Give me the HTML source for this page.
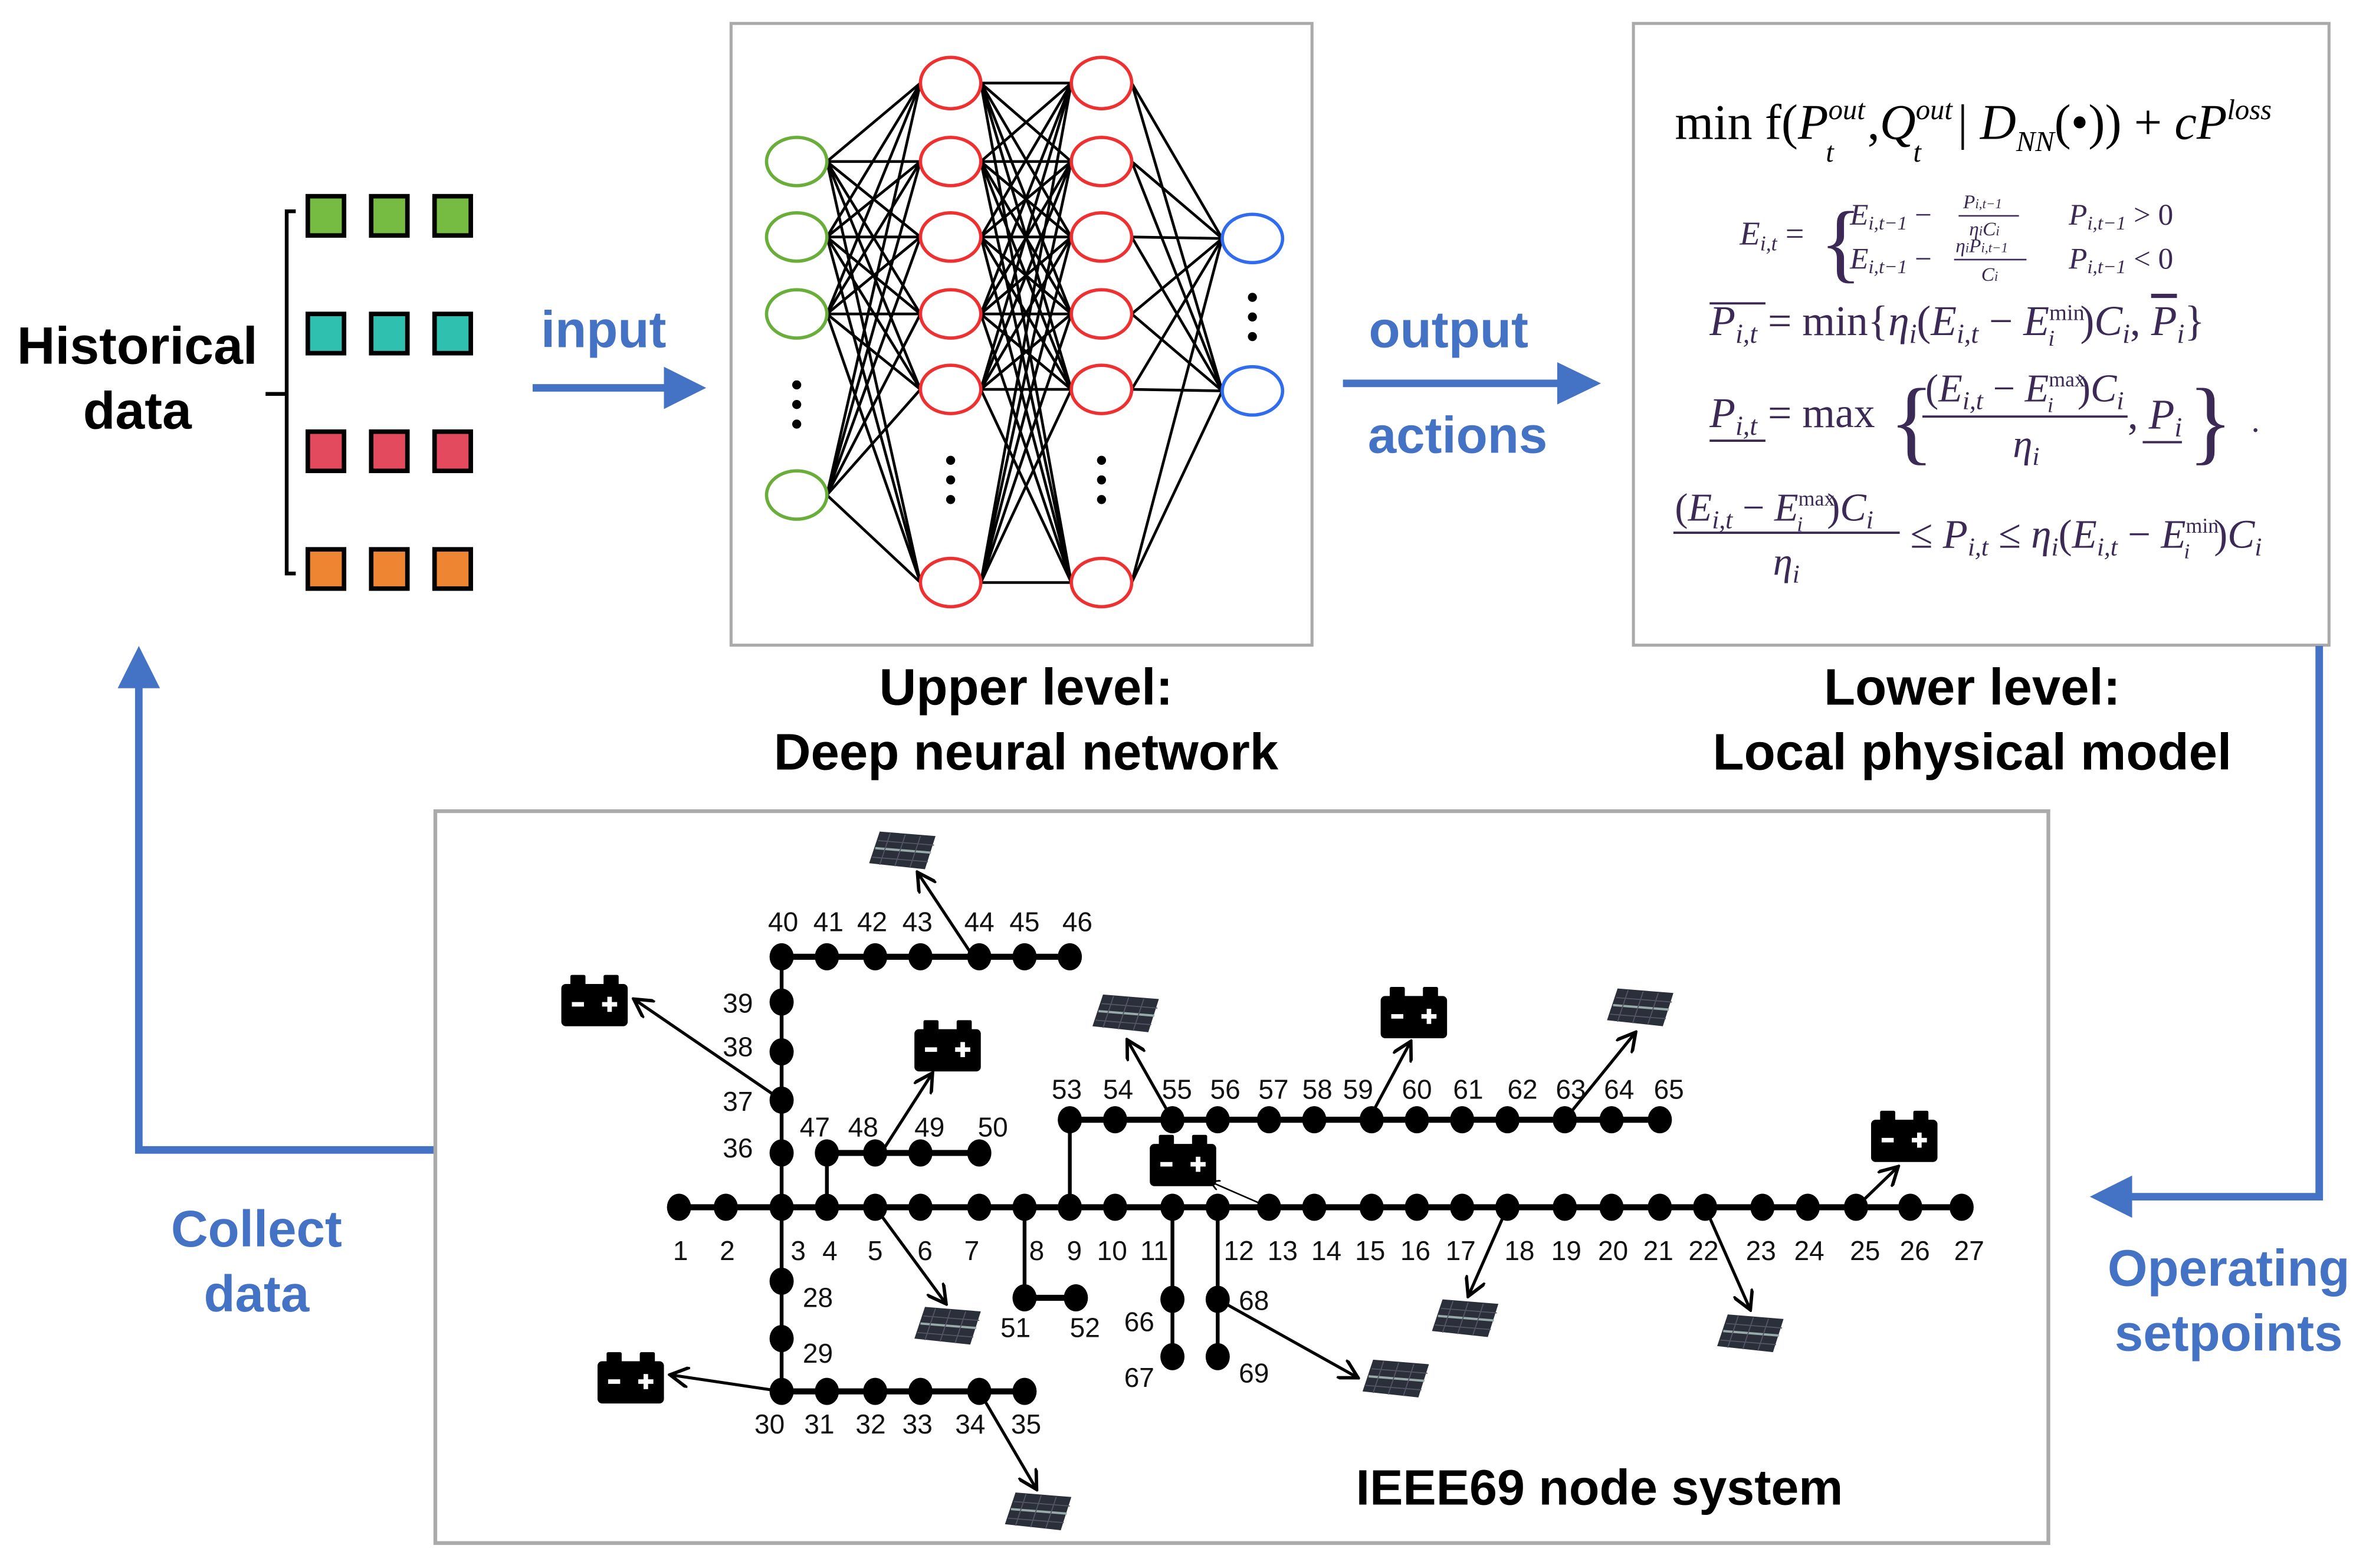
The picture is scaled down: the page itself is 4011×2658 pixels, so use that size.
<!DOCTYPE html>
<html><head><meta charset="utf-8"><style>
html,body{margin:0;padding:0;background:#fff}
svg{display:block}
.b{font-family:"Liberation Sans",sans-serif;font-weight:bold}
.bl{fill:#4472C4}
.n{font-family:"Liberation Sans Narrow","Liberation Sans",sans-serif;font-size:18px;fill:#111}
.m{font-family:"Liberation Serif",serif;fill:#3a2a55}
</style></head><body>
<svg xmlns="http://www.w3.org/2000/svg" width="4011" height="2658" viewBox="0 0 1568 1039">
<defs>
<marker id="ah" viewBox="0 0 10 10" refX="9" refY="5" markerWidth="7" markerHeight="7" orient="auto"><path d="M0,0 L9,5 L0,10" fill="none" stroke="#000" stroke-width="1.6"/></marker>
<g id="bat"><rect x="-22" y="-12" width="44" height="28" rx="3" fill="#000"/><rect x="-16" y="-18" width="10" height="8" rx="1" fill="#000"/><rect x="6" y="-18" width="10" height="8" rx="1" fill="#000"/><rect x="-15" y="0" width="8" height="3" fill="#fff"/><rect x="5" y="0" width="10" height="3" fill="#fff"/><rect x="8.5" y="-3.5" width="3" height="10" fill="#fff"/></g>
<g id="pv"><path d="M-15,-12 L22,-9 L15,13 L-22,9 Z" fill="#2b2f3a"/><path d="M-18,-1 L19,2" stroke="#9aa" stroke-width="1.5"/><path d="M-8,-11 L-15,10 M2,-10 L-5,11 M12,-9 L5,12 M-16,-6 L21,-3 M-20,5 L17,8" stroke="#556" stroke-width="0.7"/></g>
</defs>

<!-- Historical data -->
<text class="b" x="91" y="241" font-size="35" text-anchor="middle">Historical</text>
<text class="b" x="91" y="284" font-size="35" text-anchor="middle">data</text>
<path d="M196,140 H190 V380 H196 M176,261 H190" fill="none" stroke="#000" stroke-width="2.5"/>
<g stroke="#000" stroke-width="3">
<rect x="204" y="130" width="24" height="26" fill="#76BC43"/><rect x="246" y="130" width="24" height="26" fill="#76BC43"/><rect x="288" y="130" width="24" height="26" fill="#76BC43"/>
<rect x="204" y="208" width="24" height="26" fill="#2FC0B0"/><rect x="246" y="208" width="24" height="26" fill="#2FC0B0"/><rect x="288" y="208" width="24" height="26" fill="#2FC0B0"/>
<rect x="204" y="286" width="24" height="26" fill="#E34A5E"/><rect x="246" y="286" width="24" height="26" fill="#E34A5E"/><rect x="288" y="286" width="24" height="26" fill="#E34A5E"/>
<rect x="204" y="364" width="24" height="26" fill="#EE8532"/><rect x="246" y="364" width="24" height="26" fill="#EE8532"/><rect x="288" y="364" width="24" height="26" fill="#EE8532"/>
</g>

<!-- input arrow -->
<text class="b bl" x="400" y="230" font-size="34" text-anchor="middle">input</text>
<line x1="353" y1="257" x2="445" y2="257" stroke="#4472C4" stroke-width="5"/>
<path d="M440,243 L468,257 L440,271 Z" fill="#4472C4"/>

<!-- NN box -->
<rect x="484.5" y="15.5" width="385" height="412" fill="none" stroke="#aaa" stroke-width="2"/>
<g id="nnlines" stroke="#000" stroke-width="1.8"></g>
<g fill="none" stroke-width="2.2">
<g stroke="#6AAE3A"><ellipse cx="528" cy="107" rx="20" ry="16"/><ellipse cx="528" cy="157" rx="20" ry="16"/><ellipse cx="528" cy="208" rx="20" ry="16"/><ellipse cx="528" cy="328" rx="20" ry="16"/></g>
<g stroke="#F03030"><ellipse cx="630" cy="55" rx="20" ry="17"/><ellipse cx="630" cy="107" rx="20" ry="16"/><ellipse cx="630" cy="157" rx="20" ry="16"/><ellipse cx="630" cy="208" rx="20" ry="16"/><ellipse cx="630" cy="258" rx="20" ry="16"/><ellipse cx="630" cy="386" rx="20" ry="16"/>
<ellipse cx="730" cy="55" rx="20" ry="17"/><ellipse cx="730" cy="107" rx="20" ry="16"/><ellipse cx="730" cy="157" rx="20" ry="16"/><ellipse cx="730" cy="208" rx="20" ry="16"/><ellipse cx="730" cy="258" rx="20" ry="16"/><ellipse cx="730" cy="386" rx="20" ry="16"/></g>
<g stroke="#2F6CF0"><ellipse cx="830" cy="158" rx="20" ry="16"/><ellipse cx="830" cy="259" rx="20" ry="16"/></g>
</g>
<g fill="#000"><circle cx="528" cy="255" r="3"/><circle cx="528" cy="268" r="3"/><circle cx="528" cy="281" r="3"/>
<circle cx="630" cy="305" r="3"/><circle cx="630" cy="318" r="3"/><circle cx="630" cy="331" r="3"/>
<circle cx="730" cy="305" r="3"/><circle cx="730" cy="318" r="3"/><circle cx="730" cy="331" r="3"/>
<circle cx="830" cy="197" r="3"/><circle cx="830" cy="210" r="3"/><circle cx="830" cy="223" r="3"/></g>

<!-- output arrow -->
<text class="b bl" x="960" y="230" font-size="34" text-anchor="middle">output</text>
<text class="b bl" x="966" y="300" font-size="34" text-anchor="middle">actions</text>
<line x1="890" y1="254" x2="1038" y2="254" stroke="#4472C4" stroke-width="5"/>
<path d="M1032,240 L1061,254 L1032,268 Z" fill="#4472C4"/>

<!-- formula box -->
<rect x="1082.5" y="15.5" width="461" height="412" fill="none" stroke="#aaa" stroke-width="2"/>
<text class="m" x="1110" y="92" font-size="33" style="fill:#000">min f(<tspan font-style="italic">P</tspan><tspan font-style="italic" font-size="19" dy="-13">out</tspan><tspan font-style="italic" font-size="19" dx="-26" dy="28">t</tspan><tspan dy="-15" dx="14"> ,</tspan><tspan font-style="italic">Q</tspan><tspan font-style="italic" font-size="19" dy="-13">out</tspan><tspan font-style="italic" font-size="19" dx="-26" dy="28">t</tspan><tspan dy="-15" dx="16"> | </tspan><tspan font-style="italic">D</tspan><tspan font-style="italic" font-size="19" dy="8">NN</tspan><tspan dy="-8">(•)) + </tspan><tspan font-style="italic">cP</tspan><tspan font-style="italic" font-size="19" dy="-13">loss</tspan></text>
<g class="m" font-style="italic">
<text x="1153" y="162" font-size="22">E<tspan font-size="14" dy="4">i,t</tspan><tspan dy="-4" font-style="normal"> =</tspan></text>
<text x="1206" y="180" font-size="58" font-style="normal">{</text>
<text x="1226" y="149" font-size="20">E<tspan font-size="13" dy="3">i,t−1</tspan><tspan dy="-3" font-style="normal"> −</tspan></text>
<text x="1301" y="138" font-size="13">P<tspan font-size="9">i,t−1</tspan></text><line x1="1298" y1="143" x2="1338" y2="143" stroke="#3a2a55" stroke-width="1"/><text x="1305" y="156" font-size="13">η<tspan font-size="9">i</tspan>C<tspan font-size="9">i</tspan></text>
<text x="1371" y="149" font-size="20">P<tspan font-size="13" dy="3">i,t−1</tspan><tspan dy="-3" font-style="normal"> &gt; 0</tspan></text>
<text x="1226" y="178" font-size="20">E<tspan font-size="13" dy="3">i,t−1</tspan><tspan dy="-3" font-style="normal"> −</tspan></text>
<text x="1296" y="167" font-size="13">η<tspan font-size="9">i</tspan>P<tspan font-size="9">i,t−1</tspan></text><line x1="1295" y1="172" x2="1343" y2="172" stroke="#3a2a55" stroke-width="1"/><text x="1313" y="186" font-size="13">C<tspan font-size="9">i</tspan></text>
<text x="1371" y="178" font-size="20">P<tspan font-size="13" dy="3">i,t−1</tspan><tspan dy="-3" font-style="normal"> &lt; 0</tspan></text>
<line x1="1133" y1="201" x2="1170" y2="201" stroke="#3a2a55" stroke-width="1.5"/>
<text x="1133" y="222" font-size="28">P<tspan font-size="18" dy="5">i,t</tspan><tspan dy="-5" font-style="normal"> = min{</tspan>η<tspan font-size="18" dy="5">i</tspan><tspan dy="-5" font-style="normal">(</tspan>E<tspan font-size="18" dy="5">i,t</tspan><tspan dy="-5" font-style="normal"> − </tspan>E<tspan font-size="15" dy="-10" font-style="normal">min</tspan><tspan font-size="15" dx="-24" dy="17">i</tspan><tspan dy="-7" dx="17" font-style="normal">)</tspan>C<tspan font-size="18" dy="5">i</tspan><tspan dy="-5" font-style="normal">, </tspan><tspan text-decoration="overline">P</tspan><tspan font-size="18" dy="5">i</tspan><tspan dy="-5" font-style="normal">}</tspan></text>
<text x="1133" y="283" font-size="28">P<tspan font-size="18" dy="5">i,t</tspan><tspan dy="-5" font-style="normal"> = max</tspan></text>
<line x1="1133" y1="292" x2="1170" y2="292" stroke="#3a2a55" stroke-width="1.5"/>
<text x="1252" y="300" font-size="62" font-style="normal">{</text>
<text x="1276" y="266" font-size="26"><tspan font-style="normal">(</tspan>E<tspan font-size="17" dy="5">i,t</tspan><tspan dy="-5" font-style="normal"> − </tspan>E<tspan font-size="14" dy="-10" font-style="normal">max</tspan><tspan font-size="14" dx="-25" dy="17">i</tspan><tspan dy="-7" dx="16" font-style="normal">)</tspan>C<tspan font-size="17" dy="5">i</tspan></text>
<line x1="1274" y1="276" x2="1410" y2="276" stroke="#3a2a55" stroke-width="1.5"/>
<text x="1334" y="303" font-size="26">η<tspan font-size="17" dy="5">i</tspan></text>
<text x="1410" y="284" font-size="28"><tspan font-style="normal">, </tspan>P<tspan font-size="18" dy="5">i</tspan></text>
<line x1="1420" y1="293" x2="1446" y2="293" stroke="#3a2a55" stroke-width="1.5"/>
<text x="1450" y="300" font-size="62" font-style="normal">}</text>
<text x="1492" y="286" font-size="22" font-style="normal">.</text>
<text x="1110" y="345" font-size="26"><tspan font-style="normal">(</tspan>E<tspan font-size="17" dy="5">i,t</tspan><tspan dy="-5" font-style="normal"> − </tspan>E<tspan font-size="14" dy="-10" font-style="normal">max</tspan><tspan font-size="14" dx="-25" dy="17">i</tspan><tspan dy="-7" dx="16" font-style="normal">)</tspan>C<tspan font-size="17" dy="5">i</tspan></text>
<line x1="1109" y1="353" x2="1259" y2="353" stroke="#3a2a55" stroke-width="1.5"/>
<text x="1175" y="381" font-size="26">η<tspan font-size="17" dy="5">i</tspan></text>
<text x="1266" y="363" font-size="27"><tspan font-style="normal">≤ </tspan>P<tspan font-size="17" dy="5">i,t</tspan><tspan dy="-5" font-style="normal"> ≤ </tspan>η<tspan font-size="17" dy="5">i</tspan><tspan dy="-5" font-style="normal">(</tspan>E<tspan font-size="17" dy="5">i,t</tspan><tspan dy="-5" font-style="normal"> − </tspan>E<tspan font-size="14" dy="-10" font-style="normal">min</tspan><tspan font-size="14" dx="-23" dy="17">i</tspan><tspan dy="-7" dx="16" font-style="normal">)</tspan>C<tspan font-size="17" dy="5">i</tspan></text>
</g>

<!-- level labels -->
<text class="b" x="680" y="467" font-size="34" text-anchor="middle">Upper level:</text>
<text class="b" x="680" y="510" font-size="34" text-anchor="middle">Deep neural network</text>
<text class="b" x="1307" y="467" font-size="34" text-anchor="middle">Lower level:</text>
<text class="b" x="1307" y="510" font-size="34" text-anchor="middle">Local physical model</text>

<!-- feedback arrows -->
<path d="M288,762 H92 V450" fill="none" stroke="#4472C4" stroke-width="5"/>
<path d="M78,456 L92,428 L106,456 Z" fill="#4472C4"/>
<text class="b bl" x="170" y="826" font-size="34" text-anchor="middle">Collect</text>
<text class="b bl" x="170" y="869" font-size="34" text-anchor="middle">data</text>
<path d="M1537,428 V793 H1408" fill="none" stroke="#4472C4" stroke-width="5"/>
<path d="M1413,779 L1385,793 L1413,807 Z" fill="#4472C4"/>
<text class="b bl" x="1477" y="852" font-size="34" text-anchor="middle">Operating</text>
<text class="b bl" x="1477" y="895" font-size="34" text-anchor="middle">setpoints</text>

<!-- bottom box -->
<rect x="288.5" y="537.5" width="1069" height="485" fill="none" stroke="#aaa" stroke-width="2.5"/>
<text class="b" x="1060" y="997" font-size="33" text-anchor="middle">IEEE69 node system</text>

<!-- network lines -->
<g stroke="#000" stroke-width="4">
<line x1="450" y1="800" x2="1300" y2="800"/>
<line x1="518" y1="922" x2="679" y2="922"/>
<line x1="518" y1="634" x2="709" y2="634"/>
<line x1="548" y1="764" x2="649" y2="764"/>
<line x1="709" y1="742" x2="1100" y2="742"/>
<line x1="679" y1="860" x2="713" y2="860"/>
</g>
<g stroke="#000" stroke-width="2.5">
<line x1="518" y1="634" x2="518" y2="922"/>
<line x1="548" y1="764" x2="548" y2="800"/>
<line x1="709" y1="742" x2="709" y2="800"/>
<line x1="679" y1="800" x2="679" y2="860"/>
<line x1="777" y1="800" x2="777" y2="899"/>
<line x1="807" y1="800" x2="807" y2="899"/>
</g>
<g id="nodes" fill="#000"></g>

<!-- devices -->
<use href="#pv" x="598" y="563"/><use href="#pv" x="746" y="671"/><use href="#pv" x="1087" y="667"/><use href="#pv" x="628" y="878"/><use href="#pv" x="971" y="873"/><use href="#pv" x="925" y="913"/><use href="#pv" x="1160" y="883"/><use href="#pv" x="688" y="1001"/>
<use href="#bat" x="394" y="664"/><use href="#bat" x="628" y="694"/><use href="#bat" x="937" y="672"/><use href="#bat" x="784" y="770"/><use href="#bat" x="1262" y="754"/><use href="#bat" x="418" y="914"/>
<g stroke="#000" stroke-width="2" marker-end="url(#ah)" fill="none">
<line x1="645" y1="634" x2="608" y2="578"/>
<line x1="518" y1="729" x2="420" y2="662"/>
<line x1="584" y1="764" x2="618" y2="711"/>
<line x1="777" y1="742" x2="747" y2="689"/>
<line x1="907" y1="742" x2="935" y2="690"/>
<line x1="1037" y1="742" x2="1084" y2="684"/>
<line x1="841" y1="800" x2="802" y2="783" stroke-width="1"/>
<line x1="1230" y1="800" x2="1258" y2="773"/>
<line x1="580" y1="800" x2="627" y2="864"/>
<line x1="999" y1="800" x2="973" y2="859"/>
<line x1="1130" y1="800" x2="1160" y2="868"/>
<line x1="807" y1="861" x2="900" y2="913"/>
<line x1="518" y1="922" x2="444" y2="911"/>
<line x1="649" y1="922" x2="687" y2="987"/>
</g>

<!-- node labels -->
<g class="n" text-anchor="middle">
<text x="451" y="835">1</text><text x="482" y="835">2</text><text x="529" y="835">3</text><text x="550" y="835">4</text><text x="580" y="835">5</text><text x="613" y="835">6</text><text x="644" y="835">7</text><text x="687" y="835">8</text><text x="712" y="835">9</text><text x="737" y="835">10</text><text x="765" y="835">11</text><text x="821" y="835">12</text><text x="850" y="835">13</text><text x="879" y="835">14</text><text x="908" y="835">15</text><text x="938" y="835">16</text><text x="968" y="835">17</text><text x="1007" y="835">18</text><text x="1038" y="835">19</text><text x="1069" y="835">20</text><text x="1099" y="835">21</text><text x="1129" y="835">22</text><text x="1167" y="835">23</text><text x="1199" y="835">24</text><text x="1236" y="835">25</text><text x="1269" y="835">26</text><text x="1305" y="835">27</text>
<text x="542" y="866">28</text><text x="542" y="903">29</text>
<text x="510" y="950">30</text><text x="543" y="950">31</text><text x="577" y="950">32</text><text x="608" y="950">33</text><text x="643" y="950">34</text><text x="680" y="950">35</text>
<text x="489" y="767">36</text><text x="489" y="736">37</text><text x="489" y="700">38</text><text x="489" y="671">39</text>
<text x="519" y="617">40</text><text x="549" y="617">41</text><text x="578" y="617">42</text><text x="608" y="617">43</text><text x="649" y="617">44</text><text x="679" y="617">45</text><text x="714" y="617">46</text>
<text x="540" y="753">47</text><text x="572" y="753">48</text><text x="616" y="753">49</text><text x="658" y="753">50</text>
<text x="673" y="886">51</text><text x="719" y="886">52</text>
<text x="707" y="728">53</text><text x="741" y="728">54</text><text x="780" y="728">55</text><text x="812" y="728">56</text><text x="844" y="728">57</text><text x="873" y="728">58</text><text x="900" y="728">59</text><text x="939" y="728">60</text><text x="973" y="728">61</text><text x="1009" y="728">62</text><text x="1041" y="728">63</text><text x="1073" y="728">64</text><text x="1106" y="728">65</text>
<text x="755" y="882">66</text><text x="755" y="919">67</text><text x="831" y="868">68</text><text x="831" y="916">69</text>
</g>

<script>
(function(){
var ns="http://www.w3.org/2000/svg";
function L(g,a,b,c,d){var l=document.createElementNS(ns,"line");l.setAttribute("x1",a);l.setAttribute("y1",b);l.setAttribute("x2",c);l.setAttribute("y2",d);g.appendChild(l);}
var g=document.getElementById("nnlines");
var inp=[107,157,208,328],hid=[55,107,157,208,258,386],out=[158,259];
inp.forEach(function(a){hid.forEach(function(b){L(g,548,a,610,b);});});
hid.forEach(function(a){hid.forEach(function(b){L(g,650,a,710,b);});});
hid.forEach(function(a){out.forEach(function(b){L(g,750,a,810,b);});});
var n=document.getElementById("nodes");
function E(x,y){var e=document.createElementNS(ns,"ellipse");e.setAttribute("cx",x);e.setAttribute("cy",y);e.setAttribute("rx",8);e.setAttribute("ry",9);n.appendChild(e);}
[450,481,518,548,580,610,649,679,709,739,777,807,841,871,909,939,969,999,1037,1068,1100,1130,1168,1198,1230,1266,1300].forEach(function(x){E(x,800);});
[518,548,580,610,649,679].forEach(function(x){E(x,922);});
[518,548,580,610,649,679,709].forEach(function(x){E(x,634);});
[548,580,610,649].forEach(function(x){E(x,764);});
[709,739,777,807,841,871,909,939,969,999,1037,1068,1100].forEach(function(x){E(x,742);});
[[518,849],[518,887],[518,764],[518,729],[518,697],[518,664],[679,860],[713,860],[777,861],[777,899],[807,861],[807,899]].forEach(function(p){E(p[0],p[1]);});
})();
</script>
</svg>
</body></html>
